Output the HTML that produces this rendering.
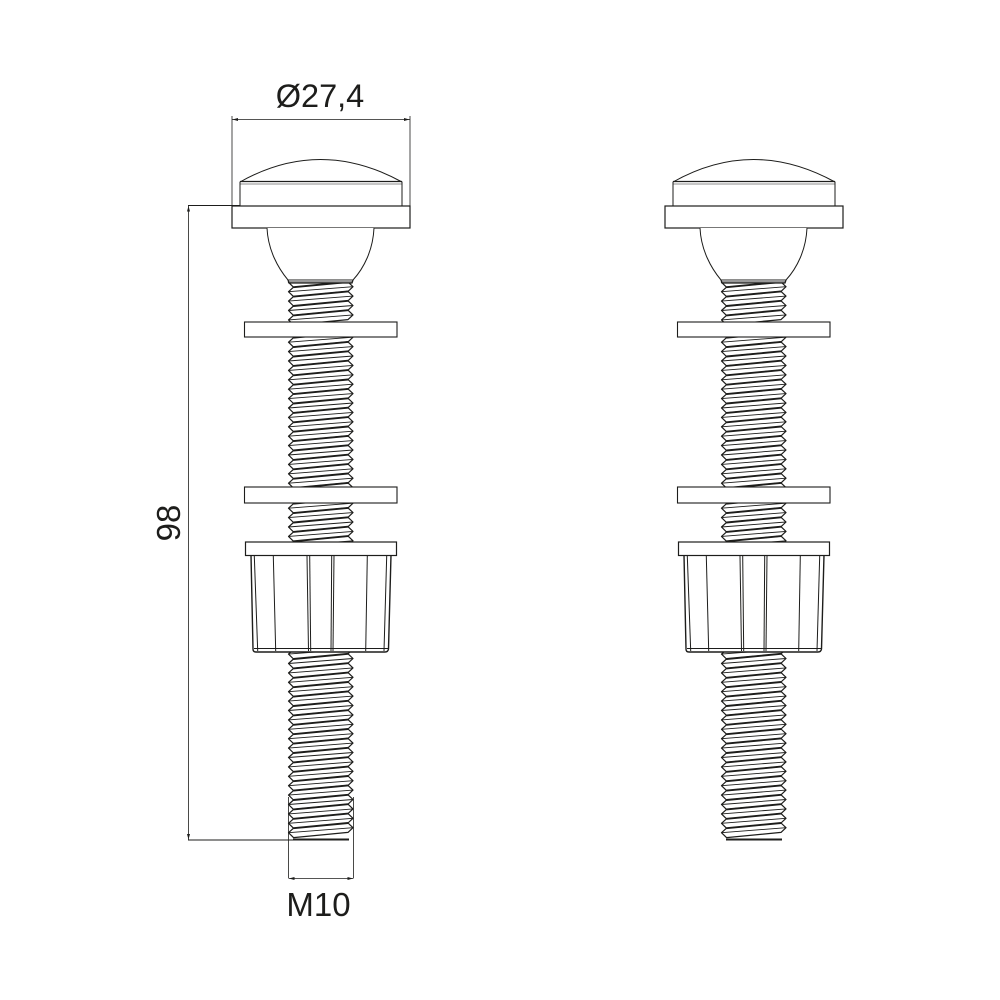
<!DOCTYPE html>
<html>
<head>
<meta charset="utf-8">
<style>
html,body{margin:0;padding:0;background:#fff}
svg{display:block}
text{font-family:"Liberation Sans",sans-serif;fill:#1d1d1b}
</style>
</head>
<body>
<svg width="1000" height="1000" viewBox="0 0 1000 1000" xmlns="http://www.w3.org/2000/svg">
<defs>
  <g id="u" fill="#fff" stroke="#1d1d1b" stroke-linejoin="round">
    <path d="M293.500 4.700 L288.500 9.200 L293.500 14.100 L348 8.900 L353 4.200 L348 -.5 Z" stroke-width="1.200"/>
    <path d="M293.500 4.700 L348 -.5" stroke-width="1.900" fill="none"/>
    <path d="M288.500 9.200 L353 4.200" stroke-width=".9" fill="none"/>
  </g>
  <g id="u4">
    <use href="#u"/><use href="#u" y="9.400"/><use href="#u" y="18.800"/><use href="#u" y="28.200"/>
  </g>
  <clipPath id="c1"><rect x="280" y="282" width="80" height="40"/></clipPath>
  <clipPath id="c2"><rect x="280" y="337" width="80" height="150"/></clipPath>
  <clipPath id="c3"><rect x="280" y="503" width="80" height="39"/></clipPath>
  <clipPath id="c4"><rect x="280" y="652" width="80" height="187"/></clipPath>
  <g id="bolt">
    <g clip-path="url(#c1)"><use href="#u4" y="273.100"/><use href="#u" y="310.700"/></g>
    <g clip-path="url(#c2)"><use href="#u4" y="323.600"/><use href="#u4" y="361.200"/><use href="#u4" y="398.800"/><use href="#u4" y="436.400"/><use href="#u" y="474"/><use href="#u" y="483.400"/></g>
    <g clip-path="url(#c3)"><use href="#u4" y="489.600"/><use href="#u" y="527.200"/><use href="#u" y="536.600"/></g>
    <g clip-path="url(#c4)"><use href="#u4" y="644.900"/><use href="#u4" y="682.500"/><use href="#u4" y="720.100"/><use href="#u4" y="757.700"/><use href="#u4" y="795.300"/></g>
    <path d="M293 841 L349 836.500 V841 Z" fill="#1d1d1b" opacity="0"/>
    <rect x="293" y="838.500" width="56" height="2" fill="#1d1d1b"/>

    <g fill="#fff" stroke="#1d1d1b">
      <path d="M240 206 V182 Q320 137 402 182 V206" stroke-width="1"/>
      <path d="M240 181.500 H402" stroke-width="1.300" fill="none"/>
      <path d="M240 184 H402" stroke-width=".6" fill="none"/>
      <rect x="232" y="206" width="178" height="22" stroke-width="1.200"/>
      <path d="M267 228 C268 250 278 268 288 280 H353 C364 268 373 250 374 228" stroke-width="1"/>
      <path d="M288 280 L289 283 H352 L353 280" stroke-width="1.300" fill="#999"/>
      <rect x="244.500" y="322" width="152.500" height="15" stroke-width="1.100"/>
      <rect x="244.500" y="487" width="152.500" height="16" stroke-width="1.100"/>
      <path d="M251 555 L253 649 Q253 652 256 652 H385 Q388 652 388.500 649 L391 555 Z" stroke-width="1.400"/>
      <rect x="245.500" y="542" width="151" height="13.500" stroke-width="1.200"/>
    </g>
    <g fill="none" stroke="#1d1d1b" stroke-width="1">
      <path d="M254 648.500 H388" stroke-width="1"/>
      <path d="M254.300 556 L257.700 651"/>
      <path d="M273.300 556 L275.700 651"/>
      <path d="M307 556 L308.500 651"/>
      <path d="M309.700 556 L310.700 651"/>
      <path d="M331.700 556 L331 651"/>
      <path d="M334 556 L333 651"/>
      <path d="M367.300 556 L365.700 651"/>
      <path d="M386.700 556 L384 651"/>
    </g>
  </g>
</defs>

<use href="#bolt"/>
<use href="#bolt" x="433"/>

<g fill="none" stroke="#1d1d1b" stroke-width=".8">
  <path d="M232 116 V206"/>
  <path d="M410 116 V206"/>
  <path d="M232 119.500 H410"/>
  <path d="M188 205.500 H240" stroke-width="1"/>
  <path d="M188 840 H300" stroke-width="1"/>
  <path d="M188.500 205.500 V840"/>
  <path d="M288.500 797 V878"/>
  <path d="M353.500 797 V878"/>
  <path d="M288.500 878.500 H353.500"/>
</g>
<g fill="#1d1d1b">
  <path d="M232.500 119.500 L238 118 V121 Z"/>
  <path d="M409.500 119.500 L404 118 V121 Z"/>
  <path d="M188.500 206 L187 211.500 H190 Z"/>
  <path d="M188.500 839.500 L187 834 H190 Z"/>
  <path d="M289 878.500 L294.500 877 V880 Z"/>
  <path d="M353 878.500 L347.500 877 V880 Z"/>
</g>

<text x="320" y="107" font-size="32.500" text-anchor="middle">Ø27,4</text>
<text x="318.500" y="916" font-size="33" text-anchor="middle">M10</text>
<text transform="translate(180 523) rotate(-90)" font-size="33" text-anchor="middle">98</text>
</svg>
</body>
</html>
